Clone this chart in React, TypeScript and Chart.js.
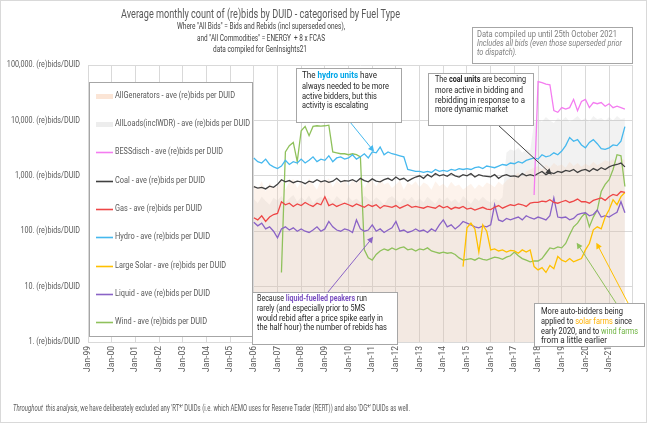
import React, { useEffect, useRef } from "react";
import { Chart, registerables } from "chart.js";
Chart.register(...registerables);

// ---- DATA (bi-monthly samples from Jan-06, values = ave (re)bids per DUID) ----
const START_YEAR = 2006;
const STEP_MONTHS = 2;

const hydro = [
  2100, 1800, 1700, 2000, 1600, 1450,
  1350, 1500, 1900, 1600, 1800, 1700,
  2000, 1700, 1900, 2200, 1800, 2000,
  1900, 2300, 1800, 2100, 2200, 2000,
  2100, 2400, 2000, 2200, 2500, 2100,
  2700, 2600, 3300, 2400, 2700, 2500,
  2400, 2300, 2200, 1300, 1250, 1200,
  1200, 1150, 1200, 1150, 1300, 1200,
  1250, 1200, 1300, 1250, 1350, 1300,
  1350, 1300, 1400, 1450, 1350, 1500,
  1450, 1400, 1500, 1600, 1550, 1700,
  1650, 1800, 1700, 1900, 2000, 2100,
  2000, 2400, 2200, 2300, 2600, 2400,
  2800, 3500, 4900, 4200, 4500, 3600,
  3200, 4000, 4500, 3800, 3100, 3000,
  3200, 3600, 3500, 4200, 7700,
];

const coal = [
  640, 600, 620, 580, 650, 620,
  700, 850, 780, 820, 750, 800,
  780, 720, 800, 760, 850, 780,
  820, 760, 800, 900, 780, 820,
  800, 850, 780, 900, 820, 780,
  880, 800, 780, 850, 900, 820,
  950, 850, 900, 800, 880, 950,
  1000, 900, 1050, 950, 1100, 1000,
  1050, 980, 1100, 1000, 950, 1050,
  1000, 1100, 950, 1050, 1000, 980,
  960, 1050, 900, 1000, 1050, 980,
  1000, 950, 1100, 1000, 1050, 1000,
  1100, 1200, 1050, 1150, 1100, 1200,
  1150, 1250, 1200, 1300, 1150, 1250,
  1300, 1200, 1350, 1250, 1400, 1300,
  1450, 1550, 1600, 1700, 1450,
];

const gas = [
  175, 160, 190, 150, 180, 200,
  210, 340, 300, 320, 280, 310,
  290, 330, 300, 280, 320, 300,
  420, 290, 310, 280, 300, 320,
  300, 280, 310, 290, 270, 300,
  280, 300, 260, 290, 280, 270,
  290, 260, 280, 300, 270, 280,
  270, 260, 280, 270, 260, 290,
  265, 280, 250, 270, 260, 280,
  250, 260, 240, 255, 270, 250,
  245, 270, 290, 260, 280, 300,
  290, 310, 300, 280, 320, 330,
  330, 350, 340, 370, 330, 320,
  340, 360, 330, 350, 380, 340,
  340, 320, 360, 380, 400, 360,
  420, 460, 440, 520, 500,
];

const liquid = [
  145, 125, 140, 110, 120, 100,
  76, 110, 120, 105, 115, 100,
  110, 100, 95, 105, 120, 100,
  110, 150, 120, 105, 100, 110,
  105, 95, 160, 110, 100, 105,
  130, 100, 110, 95, 105, 115,
  150, 100, 105, 95, 100, 110,
  100, 105, 95, 110, 100, 130,
  160, 120, 130, 110, 125, 150,
  140, 130, 120, 115, 125, 120,
  130, 300, 160, 150, 170, 160,
  170, 180, 160, 190, 175, 165,
  180, 170, 160, 190, 400, 180,
  175, 180, 160, 170, 200, 210,
  215, 190, 200, 240, 180, 190,
  180, 200, 220, 340, 215,
];

const wind = [
  null, null, null, null, null, null,
  null, 18, 2700, 3500, 4000, 1800,
  6500, 7800, 5300, 7800, 8000, 7900,
  8000, 8200, 2700, 2600, 2500, 2500,
  2400, 2500, 2400, 2200, 46, 33,
  30, 38, 44, 48, 45, 50,
  46, 50, 52, 46, 48, 44,
  48, 46, 50, 44, 42, 40,
  42, 40, 41, 38, 33, 30,
  31, 32, 30, 33, 31, 30,
  32, 34, 33, 31, 34, 36,
  42, 36, 32, 30, 28, 29,
  29, 32, 40, 50, 48, 52,
  50, 60, 86, 120, 140, 180,
  215, 120, 180, 240, 520, 700,
  850, 1300, 2400, 2300, 640,
];

const largeSolar = [
  null, null, null, null, null, null,
  null, null, null, null, null, null,
  null, null, null, null, null, null,
  null, null, null, null, null, null,
  null, null, null, null, null, null,
  null, null, null, null, null, null,
  null, null, null, null, null, null,
  null, null, null, null, null, null,
  null, null, null, null, null, 23,
  115, 140, 110, 42, 130, 100,
  46, 48, 44, 46, 42, 45,
  44, 40, 46, 42, 46, 23,
  20, 22, 18, 24, 21, 35,
  30, 28, 32, 28, 30, 32,
  46, 60, 106, 120, 110, 180,
  244, 370, 300, 420, 500,
];

const bessDisch = [
  null, null, null, null, null, null,
  null, null, null, null, null, null,
  null, null, null, null, null, null,
  null, null, null, null, null, null,
  null, null, null, null, null, null,
  null, null, null, null, null, null,
  null, null, null, null, null, null,
  null, null, null, null, null, null,
  null, null, null, null, null, null,
  null, null, null, null, null, null,
  null, null, null, null, null, null,
  null, null, null, null, null, 450,
  50000, 48000, 45000, 44000, 15000, 14000,
  17000, 16000, 17000, 24000, 15000, 22000,
  24000, 17000, 21000, 20000, 21000, 18000,
  20000, 17000, 18000, 17000, 16000,
];

const allGenerators = [
  700, 560, 800, 520, 750, 600,
  650, 820, 560, 780, 880, 600,
  800, 620, 900, 700, 560, 850,
  760, 900, 620, 820, 700, 880,
  650, 840, 720, 900, 600, 780,
  820, 640, 880, 700, 760, 600,
  700, 820, 560, 760, 680, 800,
  620, 760, 700, 560, 800, 650,
  720, 600, 780, 650, 700, 560,
  640, 720, 580, 700, 620, 760,
  700, 620, 780, 680, 820, 900,
  1000, 1150, 950, 1200, 1300, 1400,
  1500, 1300, 1600, 1400, 1700, 1500,
  1600, 1400, 1800, 1500, 1700, 1450,
  1650, 1500, 1800, 1550, 1700, 1900,
  1800, 2000, 1700, 2100, 1900,
];

const allLoads = [
  380, 320, 420, 350, 300, 400,
  360, 430, 330, 390, 450, 340,
  410, 360, 440, 320, 380, 420,
  350, 400, 330, 430, 370, 310,
  420, 350, 390, 330, 440, 380,
  340, 410, 360, 300, 390, 430,
  370, 320, 400, 350, 420, 340,
  390, 330, 420, 360, 310, 400,
  350, 410, 340, 380, 320, 430,
  370, 310, 400, 350, 420, 360,
  330, 390, 350, 410, 2600, 3000,
  2800, 3200, 2600, 3000, 2900, 9000,
  10500, 9500, 11500, 10000, 9000, 11000,
  10000, 11500, 9500, 10500, 12000, 10000,
  11000, 9500, 12000, 10500, 11000, 9800,
  11500, 10000, 12000, 10500, 11000,
];

const tickYears = [1999, 2000, 2001, 2002, 2003, 2004, 2005, 2006, 2007, 2008, 2009, 2010, 2011, 2012, 2013, 2014, 2015, 2016, 2017, 2018, 2019, 2020, 2021, 2022];
const yTicks = [1, 10, 100, 1000, 10000, 100000];

const periods = hydro.map((_, i) => START_YEAR + (i * STEP_MONTHS) / 12);

// ---- styling ----
const FONT = "Roboto, 'Noto Sans', sans-serif";
const C = {
  hydro: "#45B8EE",
  coal: "#404040",
  gas: "#EE4646",
  bess: "#F47CF0",
  solar: "#FFC000",
  liquid: "#8A63C6",
  wind: "#8FC15C",
  genFill: "rgba(246, 200, 170, 0.22)",
  loadFill: "rgba(190, 190, 190, 0.2)",
  genSwatch: "#FBE5D6",
  loadSwatch: "#EDEDED",
};

type Seg = { t: string; c?: string; b?: boolean; i?: boolean };

function fontStr(s: Seg, size: number) {
  return `${s.i ? "italic " : ""}${s.b ? "bold " : ""}${size}px ${FONT}`;
}

function richLine(ctx: CanvasRenderingContext2D, segs: Seg[], x: number, y: number, size: number, color: string, right?: number) {
  const widths = segs.map((s) => {
    ctx.font = fontStr(s, size);
    return ctx.measureText(s.t).width;
  });
  const total = widths.reduce((a, b) => a + b, 0);
  const sx = right ? (right - x) / total : 1;
  ctx.save();
  ctx.translate(x, y);
  ctx.scale(sx, 1);
  ctx.textBaseline = "middle";
  ctx.textAlign = "left";
  let cx = 0;
  segs.forEach((s, k) => {
    ctx.font = fontStr(s, size);
    ctx.fillStyle = s.c || color;
    ctx.fillText(s.t, cx, 0);
    cx += widths[k];
  });
  ctx.restore();
}

function rightText(ctx: CanvasRenderingContext2D, text: string, xRight: number, y: number, size: number, color: string, sx: number) {
  ctx.save();
  ctx.translate(xRight, y);
  ctx.scale(sx, 1);
  ctx.font = `${size}px ${FONT}`;
  ctx.fillStyle = color;
  ctx.textAlign = "right";
  ctx.textBaseline = "middle";
  ctx.fillText(text, 0, 0);
  ctx.restore();
}

function box(ctx: CanvasRenderingContext2D, x1: number, y1: number, x2: number, y2: number) {
  ctx.save();
  ctx.fillStyle = "#FFFFFF";
  ctx.fillRect(x1, y1, x2 - x1, y2 - y1);
  ctx.strokeStyle = "#A6A6A6";
  ctx.lineWidth = 1;
  ctx.strokeRect(x1 + 0.5, y1 + 0.5, x2 - x1, y2 - y1);
  ctx.restore();
}

function arrow(ctx: CanvasRenderingContext2D, x1: number, y1: number, x2: number, y2: number, color: string) {
  const a = Math.atan2(y2 - y1, x2 - x1);
  const L = 6, W = 3;
  ctx.save();
  ctx.strokeStyle = color;
  ctx.fillStyle = color;
  ctx.lineWidth = 1;
  ctx.beginPath();
  ctx.moveTo(x1, y1);
  ctx.lineTo(x2 - Math.cos(a) * L * 0.8, y2 - Math.sin(a) * L * 0.8);
  ctx.stroke();
  ctx.beginPath();
  ctx.moveTo(x2, y2);
  ctx.lineTo(x2 - Math.cos(a) * L - Math.sin(a) * W, y2 - Math.sin(a) * L + Math.cos(a) * W);
  ctx.lineTo(x2 - Math.cos(a) * L + Math.sin(a) * W, y2 - Math.sin(a) * L - Math.cos(a) * W);
  ctx.closePath();
  ctx.fill();
  ctx.restore();
}

const legendItems = [
  { label: "AllGenerators - ave (re)bids per DUID", color: C.genSwatch, area: true, y: 96, right: 235 },
  { label: "AllLoads(inclWDR) - ave (re)bids per DUID", color: C.loadSwatch, area: true, y: 124, right: 250 },
  { label: "BESSdisch - ave (re)bids per DUID", color: C.bess, area: false, y: 152, right: 223 },
  { label: "Coal - ave (re)bids per DUID", color: C.coal, area: false, y: 181, right: 205 },
  { label: "Gas - ave (re)bids per DUID", color: C.gas, area: false, y: 209, right: 202 },
  { label: "Hydro - ave (re)bids per DUID", color: C.hydro, area: false, y: 237, right: 210 },
  { label: "Large Solar - ave (re)bids per DUID", color: C.solar, area: false, y: 266, right: 226 },
  { label: "Liquid - ave (re)bids per DUID", color: C.liquid, area: false, y: 294, right: 210 },
  { label: "Wind - ave (re)bids per DUID", color: C.wind, area: false, y: 322, right: 207 },
];

const yLabel = (v: number) => v.toLocaleString("en-US") + ". (re)bids/DUID";

const overlayPlugin = {
  id: "overlay",
  afterDraw(chart: any) {
    const ctx: CanvasRenderingContext2D = chart.ctx;
    const xs = chart.scales.x;
    const ys = chart.scales.y;
    const px = (yr: number) => xs.getPixelForValue(yr);
    const py = (v: number) => ys.getPixelForValue(v);

    // y-axis tick labels (from the log scale's own ticks)
    ys.ticks.forEach((t: any) => {
      rightText(ctx, yLabel(t.value), ys.right - 8, py(t.value), 9, "#595959", 0.8);
    });

    // title block
    richLine(ctx, [{ t: "Average monthly count of (re)bids by DUID - categorised by Fuel Type" }], 121, 15, 13, "#595959", 400);
    richLine(ctx, [{ t: 'Where "All Bids" = Bids and Rebids (incl superseded ones),' }], 177, 27, 9, "#404040", 345);
    richLine(ctx, [{ t: 'and "All Commodities" = ENERGY  + 8 x FCAS' }], 197, 39, 9, "#404040", 325);
    richLine(ctx, [{ t: "data compiled for GenInsights21" }], 213, 50, 9, "#404040", 307);

    // data note box
    box(ctx, 472, 27, 632, 63);
    richLine(ctx, [{ t: "Data compiled up until 25th October 2021" }], 477, 35, 8.5, "#7F7F7F", 617);
    richLine(ctx, [{ t: "Includes all bids (even those superseded prior", i: true }], 477, 44, 8.5, "#7F7F7F", 622);
    richLine(ctx, [{ t: "to dispatch).", i: true }], 477, 53, 8.5, "#7F7F7F", 517);

    // legend
    box(ctx, 89, 82, 252, 336);
    legendItems.forEach((it) => {
      ctx.save();
      if (it.area) {
        ctx.fillStyle = it.color;
        ctx.fillRect(96, it.y - 2, 17, 5);
      } else {
        ctx.strokeStyle = it.color;
        ctx.lineWidth = 1.6;
        ctx.beginPath();
        ctx.moveTo(96, it.y + 0.5);
        ctx.lineTo(113, it.y + 0.5);
        ctx.stroke();
      }
      ctx.restore();
      richLine(ctx, [{ t: it.label }], 115, it.y, 9, "#595959", it.right);
    });

    // arrows (tips anchored to data coordinates)
    arrow(ctx, 350, 122, px(2011.08), py(2730), C.hydro);
    arrow(ctx, 498, 125, px(2018.58), py(1050), C.coal);
    arrow(ctx, 328, 292, px(2011.04), py(79), C.liquid);
    arrow(ctx, 616, 303, px(2019.63), py(62), C.wind);
    arrow(ctx, 628, 303, px(2020.46), py(62), C.solar);

    // hydro note
    box(ctx, 296, 68, 401, 122);
    richLine(ctx, [{ t: "The " }, { t: "hydro units", c: "#00A6E8", b: true }, { t: " have" }], 302, 76, 9, "#262626", 377);
    richLine(ctx, [{ t: "always needed to be more" }], 302, 87, 9, "#262626", 389);
    richLine(ctx, [{ t: "active bidders, but this" }], 302, 97, 9, "#262626", 377);
    richLine(ctx, [{ t: "activity is escalating" }], 302, 106, 9, "#262626", 368);

    // coal note
    box(ctx, 428, 73, 533, 125);
    richLine(ctx, [{ t: "The " }, { t: "coal units", b: true }, { t: " are becoming" }], 435, 80, 9, "#262626", 526);
    richLine(ctx, [{ t: "more active in bidding and" }], 435, 91, 9, "#262626", 523);
    richLine(ctx, [{ t: "rebidding in response to a" }], 435, 101, 9, "#262626", 525);
    richLine(ctx, [{ t: "more dynamic market" }], 435, 110, 9, "#262626", 508);

    // liquid note
    box(ctx, 252, 292, 397, 344);
    richLine(ctx, [{ t: "Because " }, { t: "liquid-fuelled peakers", c: "#7A4FC0", b: true }, { t: " run" }], 257, 299, 9, "#262626", 367);
    richLine(ctx, [{ t: "rarely (and especially prior to 5MS" }], 257, 309, 9, "#262626", 365);
    richLine(ctx, [{ t: "would rebid after a price spike early in" }], 257, 319, 9, "#262626", 383);
    richLine(ctx, [{ t: "the half hour) the number of rebids has" }], 257, 328, 9, "#262626", 387);

    // auto-bidder note
    box(ctx, 534, 303, 644, 346);
    richLine(ctx, [{ t: "More auto-bidders being" }], 541, 312, 9, "#262626", 623);
    richLine(ctx, [{ t: "applied to " }, { t: "solar farms", c: "#FFB000" }, { t: " since" }], 541, 322, 9, "#262626", 632);
    richLine(ctx, [{ t: "early 2020, and to " }, { t: "wind farms", c: "#6DB33F" }], 541, 332, 9, "#262626", 638);
    richLine(ctx, [{ t: "from a little earlier" }], 541, 341, 9, "#262626", 607);

    // footer
    richLine(
      ctx,
      [
        { t: "Throughout  this analysis", i: true },
        { t: ", we have deliberately excluded any 'RT*' DUIDs (i.e. which AEMO uses for Reserve Trader (RERT)) and also 'DG*' DUIDs as well." },
      ],
      13, 409, 8.5, "#595959", 410
    );

    // outer frame
    ctx.save();
    ctx.strokeStyle = "#D9D9D9";
    ctx.lineWidth = 1;
    ctx.strokeRect(0.5, 0.5, chart.width - 1, chart.height - 1);
    ctx.restore();
  },
};

const toPts = (arr: (number | null)[]) => arr.map((v, i) => ({ x: periods[i], y: v }));

function lineDs(label: string, data: (number | null)[], color: string) {
  return {
    label,
    data: toPts(data),
    borderColor: color,
    backgroundColor: color,
    borderWidth: 1.3,
    pointRadius: 0,
    tension: 0,
    fill: false,
    order: 1,
  };
}

export default function App() {
  const ref = useRef<HTMLCanvasElement>(null);
  useEffect(() => {
    const chart = new Chart(ref.current as HTMLCanvasElement, {
      type: "line",
      data: {
        datasets: [
          lineDs("BESSdisch - ave (re)bids per DUID", bessDisch, C.bess),
          lineDs("Coal - ave (re)bids per DUID", coal, C.coal),
          lineDs("Gas - ave (re)bids per DUID", gas, C.gas),
          lineDs("Hydro - ave (re)bids per DUID", hydro, C.hydro),
          lineDs("Large Solar - ave (re)bids per DUID", largeSolar, C.solar),
          lineDs("Liquid - ave (re)bids per DUID", liquid, C.liquid),
          lineDs("Wind - ave (re)bids per DUID", wind, C.wind),
          {
            label: "AllGenerators - ave (re)bids per DUID",
            data: toPts(allGenerators),
            borderWidth: 0,
            borderColor: "rgba(0,0,0,0)",
            backgroundColor: C.genFill,
            pointRadius: 0,
            tension: 0,
            fill: "start",
            order: 5,
          },
          {
            label: "AllLoads(inclWDR) - ave (re)bids per DUID",
            data: toPts(allLoads),
            borderWidth: 0,
            borderColor: "rgba(0,0,0,0)",
            backgroundColor: C.loadFill,
            pointRadius: 0,
            tension: 0,
            fill: "start",
            order: 6,
          },
        ] as any,
      },
      options: {
        animation: false,
        responsive: false,
        devicePixelRatio: 1,
        layout: { padding: { top: 65, right: 8, bottom: 0, left: 0 } },
        plugins: {
          legend: { display: false },
          tooltip: { enabled: false },
          title: { display: false },
        },
        scales: {
          x: {
            type: "linear",
            min: 1999,
            max: 2022,
            afterBuildTicks: (s: any) => {
              s.ticks = tickYears.map((v) => ({ value: v }));
            },
            afterFit: (s: any) => {
              s.height = 81;
            },
            ticks: {
              autoSkip: false,
              minRotation: 90,
              maxRotation: 90,
              padding: 4,
              color: "#595959",
              font: { family: FONT, size: 8.5 },
              callback: (v: any) => (Number(v) >= 2022 ? "" : "Jan-" + String(Number(v) % 100).padStart(2, "0")),
            },
            grid: { color: "#D9D9D9", lineWidth: 1, drawTicks: false },
            border: { display: false },
          },
          y: {
            type: "logarithmic",
            min: 1,
            max: 100000,
            afterBuildTicks: (s: any) => {
              s.ticks = yTicks.map((v) => ({ value: v }));
            },
            afterFit: (s: any) => {
              s.width = 88;
            },
            ticks: {
              display: false,
              autoSkip: false,
              callback: (v: any) => yLabel(Number(v)),
            },
            grid: { color: "#D9D9D9", lineWidth: 1, drawTicks: false },
            border: { display: false },
          },
        },
      } as any,
      plugins: [overlayPlugin],
    });
    return () => chart.destroy();
  }, []);
  return (
    <div style={{ position: "fixed", left: 0, top: 0, width: 647, height: 423, background: "#FFFFFF" }}>
      <canvas ref={ref} width={647} height={423} style={{ display: "block", width: 647, height: 423 }} />
    </div>
  );
}
